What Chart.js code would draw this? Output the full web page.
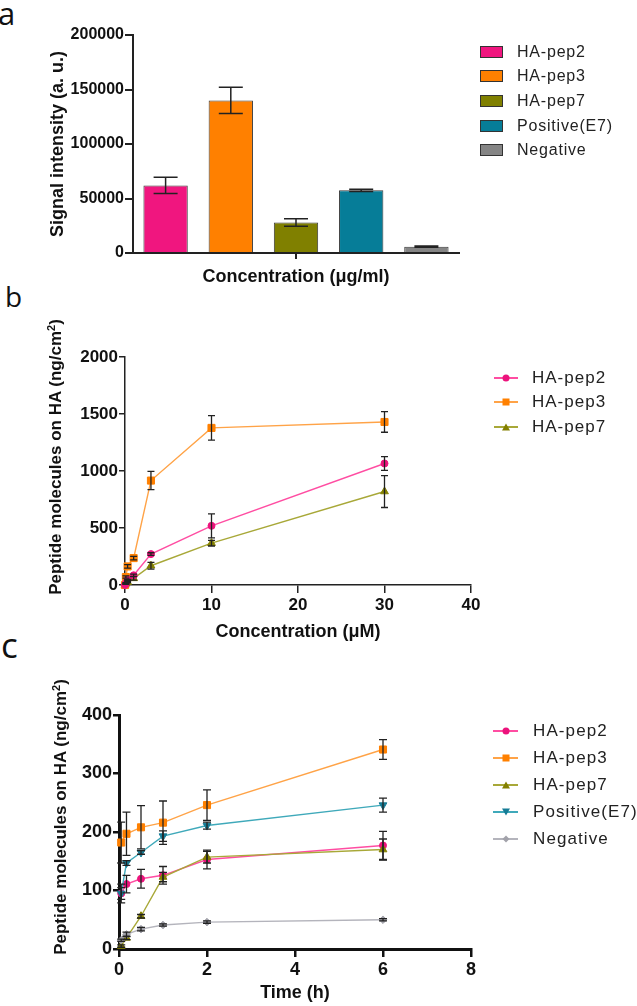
<!DOCTYPE html>
<html><head><meta charset="utf-8">
<script src="https://cdn.jsdelivr.net/npm/chart.js@4"></script>
<style>
html,body{margin:0;padding:0;background:#fff;}
body{width:637px;height:1006px;position:relative;overflow:hidden;font-family:"Liberation Sans",Arial,sans-serif;color:#111;}
canvas{position:absolute;left:0;}
.letter{position:absolute;font-family:"Open Sans",sans-serif;line-height:1;color:#111;}
.ytitle{position:absolute;font-weight:bold;font-size:17px;white-space:nowrap;line-height:1;transform:translate(-50%,-50%) rotate(-90deg);}
.ytitle sup{font-size:11px;vertical-align:6px;line-height:0;}
.leg{position:absolute;height:20px;display:flex;align-items:center;white-space:nowrap;color:#222;}
.box{position:absolute;box-sizing:border-box;border:1px solid #333;}
.lline{position:absolute;height:20px;}
.lline .ln{position:absolute;left:0;right:0;top:9px;height:1.5px;}
.mk{position:absolute;left:50%;top:50%;transform:translate(-50%,-50%);}
</style>
</head><body>
<div class="letter" style="left:-2px;top:-2px;font-size:31px;">a</div>
<div class="letter" style="left:5px;top:282px;font-size:28px;">b</div>
<div class="letter" style="left:1px;top:627px;font-size:35px;">c</div>

<canvas id="ca" width="637" height="290" style="top:0px"></canvas>
<canvas id="cb" width="637" height="360" style="top:290px"></canvas>
<canvas id="cc" width="637" height="356" style="top:650px"></canvas>

<div class="ytitle" style="left:55px;top:457px;">Peptide molecules on HA (ng/cm<sup>2</sup>)</div>
<div class="ytitle" style="left:60px;top:817px;">Peptide molecules on HA (ng/cm<sup>2</sup>)</div>

<div id="legs"></div>

<script>
// ---------- Panel a data ----------
const barLabels = ['HA-pep2', 'HA-pep3', 'HA-pep7', 'Positive(E7)', 'Negative'];
const barValues = [62000, 140000, 28000, 57500, 5800];
const barErrors = [7500, 12000, 3500, 1000, 600];
const barColors = ['#F0167F', '#FF8000', '#808000', '#067D98', '#858585'];
const aTicks = [0, 50000, 100000, 150000, 200000];

// ---------- Panel b data ----------
const concB = [0, 0.1, 0.3, 1, 3, 10, 30];
const bPep2 = [0, 15, 45, 85, 271, 519, 1066];
const bPep3 = [0, 70, 163, 236, 916, 1378, 1430];
const bPep7 = [0, 10, 25, 58, 169, 367, 820];
const bPep2Err = [0, 5, 5, 10, 12, 105, 60];
const bPep3Err = [0, 10, 15, 15, 80, 107, 90];
const bPep7Err = [0, 5, 5, 15, 30, 25, 140];
const bLabels = ['HA-pep2', 'HA-pep3', 'HA-pep7'];

// ---------- Panel c data ----------
const timeC = [0.05, 0.17, 0.5, 1, 2, 6];
const cPep2 = [95, 111, 120, 126, 153, 177];
const cPep3 = [182, 197, 208, 216, 246, 341];
const cPep7 = [5, 19, 56, 123, 157, 170];
const cPos = [95, 147, 165, 193, 211, 246];
const cNeg = [15, 25, 34, 41, 46, 50];
const cPep2Err = [10, 15, 16, 15, 16, 24];
const cPep3Err = [35, 37, 37, 37, 26, 17];
const cPep7Err = [2, 3, 3, 8, 10, 18];
const cPosErr = [16, 4, 3, 9, 6, 12];
const cNegErr = [2, 4, 3, 2, 2, 2];
const cLabels = ['HA-pep2', 'HA-pep3', 'HA-pep7', 'Positive(E7)', 'Negative'];

// ---------- styles ----------
const lineStyles = [
  {line: '#FF4DA2', pt: '#EC137C', shape: 'circle', r: 3.5, rot: 0},
  {line: '#FFA347', pt: '#FF8000', shape: 'rect', r: 5, rot: 0},
  {line: '#A8A838', pt: '#848000', shape: 'triangle', r: 4.5, rot: 0},
  {line: '#3FA9BA', pt: '#167C96', shape: 'triangle', r: 4.5, rot: 180},
  {line: '#B4B4BC', pt: '#A2A2AA', shape: 'rectRot', r: 3.8, rot: 0}
];

Chart.defaults.font.family = '"Liberation Sans", Arial, sans-serif';
Chart.defaults.color = '#111';
Chart.defaults.animation = false;

const errPlugin = {
  id: 'errbars',
  afterDatasetsDraw(chart, args, opts) {
    const ctx = chart.ctx, ys = chart.scales.y;
    chart.data.datasets.forEach((ds, i) => {
      if (!ds.err) return;
      const meta = chart.getDatasetMeta(i);
      meta.data.forEach((el, j) => {
        const raw = ds.data[j];
        const v = (typeof raw === 'object') ? raw.y : raw;
        const e = ds.err[j];
        if (!e) return;
        const x = el.x;
        const y1 = ys.getPixelForValue(v + e), y2 = ys.getPixelForValue(Math.max(0, v - e));
        ctx.save();
        ctx.strokeStyle = opts.color; ctx.lineWidth = opts.width;
        ctx.beginPath();
        ctx.moveTo(x, y1); ctx.lineTo(x, y2);
        ctx.moveTo(x - opts.cap, y1); ctx.lineTo(x + opts.cap, y1);
        ctx.moveTo(x - opts.cap, y2); ctx.lineTo(x + opts.cap, y2);
        ctx.stroke();
        ctx.restore();
      });
    });
  }
};

// ---------- Chart a ----------
new Chart(document.getElementById('ca'), {
  type: 'bar',
  data: {
    labels: [''],
    datasets: barLabels.map((l, i) => ({
      label: l, data: [barValues[i]], err: [barErrors[i]],
      backgroundColor: barColors[i], borderColor: '#3a3a3a', borderWidth: 1,
      barPercentage: 0.68, categoryPercentage: 1.0
    }))
  },
  options: {
    responsive: false, devicePixelRatio: 1,
    layout: {padding: {top: 35, right: 178, left: 0, bottom: 0}},
    plugins: {legend: {display: false}, tooltip: {enabled: false},
      errbars: {color: '#222', width: 1.5, cap: 12}},
    scales: {
      x: {
        grid: {offset: false, drawOnChartArea: false, tickLength: 6, color: '#222', lineWidth: 2},
        border: {color: '#222', width: 2},
        ticks: {display: true, padding: 0, font: {size: 1}},
        title: {display: true, text: 'Concentration (μg/ml)', font: {size: 18, weight: 'bold'}, color: '#111', padding: {top: 0, bottom: 2}},
        afterFit: s => { s.height = 37; }
      },
      y: {
        min: 0, max: 200000,
        afterBuildTicks: s => { s.ticks = aTicks.map(v => ({value: v})); },
        ticks: {font: {size: 16, weight: 'bold'}, color: '#111', padding: 1, callback: v => String(v)},
        grid: {drawOnChartArea: false, tickLength: 8, color: '#222', lineWidth: 2},
        border: {color: '#222', width: 2},
        title: {display: true, text: 'Signal intensity (a. u.)', font: {size: 18, weight: 'bold'}, color: '#111', padding: {top: 47, bottom: 0}},
        afterFit: s => { s.width = 133; }
      }
    }
  },
  plugins: [errPlugin]
});

function lineDs(label, xs, ys, errs, st) {
  return {
    label: label, data: xs.map((x, i) => ({x: x, y: ys[i]})), err: errs,
    borderColor: st.line, borderWidth: 1.4, backgroundColor: st.pt,
    pointStyle: st.shape, pointRadius: st.r, pointRotation: st.rot,
    pointBackgroundColor: st.pt, pointBorderColor: st.pt, pointBorderWidth: 1,
    tension: 0, fill: false, clip: false
  };
}

// ---------- Chart b ----------
new Chart(document.getElementById('cb'), {
  type: 'line',
  data: {
    datasets: [
      lineDs(bLabels[0], concB, bPep2, bPep2Err, lineStyles[0]),
      lineDs(bLabels[1], concB, bPep3, bPep3Err, lineStyles[1]),
      lineDs(bLabels[2], concB, bPep7, bPep7Err, lineStyles[2])
    ]
  },
  options: {
    responsive: false, devicePixelRatio: 1,
    layout: {padding: {top: 67, right: 166, left: 0, bottom: 0}},
    plugins: {legend: {display: false}, tooltip: {enabled: false},
      errbars: {color: '#222', width: 1.3, cap: 3.5}},
    scales: {
      x: {
        type: 'linear', min: 0, max: 40,
        ticks: {stepSize: 10, font: {size: 17, weight: 'bold'}, color: '#111', padding: 2},
        grid: {drawOnChartArea: false, tickLength: 8, color: '#222', lineWidth: 1.5},
        border: {color: '#222', width: 1.5},
        title: {display: true, text: 'Concentration (μM)', font: {size: 18, weight: 'bold'}, color: '#111', padding: {top: 0, bottom: 7}},
        afterFit: s => { s.height = 65; }
      },
      y: {
        min: 0, max: 2000,
        ticks: {stepSize: 500, font: {size: 17, weight: 'bold'}, color: '#111', padding: 1, callback: v => String(v)},
        grid: {drawOnChartArea: false, tickLength: 6, color: '#222', lineWidth: 1.5},
        border: {color: '#222', width: 1.5},
        afterFit: s => { s.width = 125; }
      }
    }
  },
  plugins: [errPlugin]
});

// ---------- Chart c ----------
new Chart(document.getElementById('cc'), {
  type: 'line',
  data: {
    datasets: [
      lineDs(cLabels[4], timeC, cNeg, cNegErr, lineStyles[4]),
      lineDs(cLabels[3], timeC, cPos, cPosErr, lineStyles[3]),
      lineDs(cLabels[2], timeC, cPep7, cPep7Err, lineStyles[2]),
      lineDs(cLabels[1], timeC, cPep3, cPep3Err, lineStyles[1]),
      lineDs(cLabels[0], timeC, cPep2, cPep2Err, lineStyles[0])
    ]
  },
  options: {
    responsive: false, devicePixelRatio: 1,
    layout: {padding: {top: 65, right: 166, left: 0, bottom: 0}},
    plugins: {legend: {display: false}, tooltip: {enabled: false},
      errbars: {color: '#222', width: 1.3, cap: 4}},
    scales: {
      x: {
        type: 'linear', min: 0, max: 8,
        ticks: {stepSize: 2, font: {size: 18, weight: 'bold'}, color: '#111', padding: 2},
        grid: {drawOnChartArea: false, tickLength: 8, color: '#111', lineWidth: 2.5},
        border: {color: '#111', width: 3},
        title: {display: true, text: 'Time (h)', font: {size: 18, weight: 'bold'}, color: '#111', padding: {top: 0, bottom: 2}},
        afterFit: s => { s.height = 57; }
      },
      y: {
        min: 0, max: 400,
        ticks: {stepSize: 100, font: {size: 18, weight: 'bold'}, color: '#111', padding: 1, callback: v => String(v)},
        grid: {drawOnChartArea: false, tickLength: 6, color: '#111', lineWidth: 2.5},
        border: {color: '#111', width: 3},
        afterFit: s => { s.width = 119; }
      }
    }
  },
  plugins: [errPlugin]
});

// ---------- HTML legends ----------
const legs = document.getElementById('legs');
function markerHtml(st) {
  const c = st.pt;
  if (st.shape === 'circle') return `<div class="mk" style="width:7px;height:7px;border-radius:50%;background:${c}"></div>`;
  if (st.shape === 'rect') return `<div class="mk" style="width:7px;height:7px;background:${c}"></div>`;
  if (st.shape === 'rectRot') return `<div class="mk" style="width:5px;height:5px;background:${c};transform:translate(-50%,-50%) rotate(45deg)"></div>`;
  if (st.rot === 180) return `<div class="mk" style="width:0;height:0;border-left:4px solid transparent;border-right:4px solid transparent;border-top:7px solid ${c}"></div>`;
  return `<div class="mk" style="width:0;height:0;border-left:4px solid transparent;border-right:4px solid transparent;border-bottom:7px solid ${c}"></div>`;
}
const rowsA = [52, 76, 101, 126, 150];
barLabels.forEach((l, i) => {
  legs.insertAdjacentHTML('beforeend',
    `<div class="box" style="left:480px;top:${rowsA[i] - 6}px;width:23px;height:12px;background:${barColors[i]}"></div>` +
    `<div class="leg" style="left:517px;top:${rowsA[i] - 10}px;font-size:16px;letter-spacing:0.8px;">${l}</div>`);
});
const rowsB = [378, 402, 427];
bLabels.forEach((l, i) => {
  const st = lineStyles[i];
  legs.insertAdjacentHTML('beforeend',
    `<div class="lline" style="left:494px;width:24px;top:${rowsB[i] - 10}px"><div class="ln" style="background:${st.line}"></div>${markerHtml(st)}</div>` +
    `<div class="leg" style="left:532px;top:${rowsB[i] - 10}px;font-size:17px;letter-spacing:1px;">${l}</div>`);
});
const rowsC = [731, 758, 785, 812, 839];
cLabels.forEach((l, i) => {
  const st = lineStyles[i];
  legs.insertAdjacentHTML('beforeend',
    `<div class="lline" style="left:493px;width:25px;top:${rowsC[i] - 10}px"><div class="ln" style="background:${st.line}"></div>${markerHtml(st)}</div>` +
    `<div class="leg" style="left:533px;top:${rowsC[i] - 10}px;font-size:17px;letter-spacing:1.1px;">${l}</div>`);
});
</script>
</body></html>
